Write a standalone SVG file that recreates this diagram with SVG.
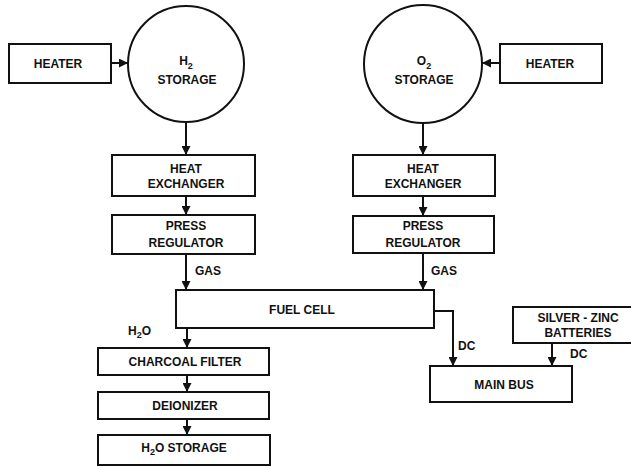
<svg xmlns="http://www.w3.org/2000/svg" width="631" height="466" viewBox="0 0 631 466">
<defs>
<marker id="ah" viewBox="0 0 10 10" refX="10" refY="5" markerWidth="4.5" markerHeight="4.5" orient="auto" markerUnits="strokeWidth">
<path d="M0,0 L10,5 L0,10 z" fill="#111"/>
</marker>
<style>
.box{fill:#fff;stroke:#111;stroke-width:2}
.t{font-family:"Liberation Sans",Arial,sans-serif;font-weight:bold;font-size:12px;fill:#111;text-anchor:middle}
.l{font-family:"Liberation Sans",Arial,sans-serif;font-weight:bold;font-size:12px;fill:#111}
.sub{font-size:9px}
.c{fill:none;stroke:#111;stroke-width:2;marker-end:url(#ah)}
</style>
</defs>
<rect width="631" height="466" fill="#fff"/>
<g id="connectors">
<line class="c" x1="111" y1="63" x2="128" y2="63"/>
<line class="c" x1="500" y1="63" x2="482" y2="63"/>
<line class="c" x1="186" y1="122" x2="186" y2="155"/>
<line class="c" x1="423" y1="123" x2="423" y2="155"/>
<line class="c" x1="186" y1="196" x2="186" y2="215"/>
<line class="c" x1="423" y1="196" x2="423" y2="216"/>
<line class="c" x1="186" y1="254" x2="186" y2="290"/>
<line class="c" x1="423" y1="253" x2="423" y2="290"/>
<line class="c" x1="187" y1="328" x2="187" y2="348"/>
<line class="c" x1="187" y1="375" x2="187" y2="392"/>
<line class="c" x1="187" y1="419" x2="187" y2="435"/>
<polyline class="c" points="434,311 453,311 453,366"/>
<line class="c" x1="552" y1="343" x2="552" y2="366"/>
<text class="l" x="195" y="275">GAS</text>
<text class="l" x="431" y="275">GAS</text>
<text class="l" x="128" y="335">H<tspan class="sub" dy="3">2</tspan><tspan dy="-3">O</tspan></text>
<text class="l" x="458" y="350">DC</text>
<text class="l" x="570" y="358">DC</text>
</g>
<g id="heater-left">
<rect class="box" x="9" y="44" width="102" height="39"/>
<text class="t" x="58" y="68">HEATER</text>
</g>
<g id="h2-storage">
<circle cx="186" cy="64" r="58" fill="#fff" stroke="#111" stroke-width="2"/>
<text class="t" x="186" y="65">H<tspan class="sub" dy="4">2</tspan></text>
<text class="t" x="187" y="84">STORAGE</text>
</g>
<g id="o2-storage">
<circle cx="423" cy="64" r="59" fill="#fff" stroke="#111" stroke-width="2"/>
<text class="t" x="424" y="65">O<tspan class="sub" dy="4">2</tspan></text>
<text class="t" x="424" y="84">STORAGE</text>
</g>
<g id="heater-right">
<rect class="box" x="500" y="44" width="102" height="39"/>
<text class="t" x="550" y="68">HEATER</text>
</g>
<g id="heat-exchanger-left">
<rect class="box" x="112" y="155" width="143" height="41"/>
<text class="t" x="186" y="173">HEAT</text>
<text class="t" x="186" y="188">EXCHANGER</text>
</g>
<g id="heat-exchanger-right">
<rect class="box" x="353" y="155" width="142" height="41"/>
<text class="t" x="423" y="173">HEAT</text>
<text class="t" x="423" y="188">EXCHANGER</text>
</g>
<g id="press-regulator-left">
<rect class="box" x="112" y="215" width="143" height="39"/>
<text class="t" x="186" y="230">PRESS</text>
<text class="t" x="186" y="247">REGULATOR</text>
</g>
<g id="press-regulator-right">
<rect class="box" x="353" y="216" width="141" height="37"/>
<text class="t" x="423" y="230">PRESS</text>
<text class="t" x="423" y="247">REGULATOR</text>
</g>
<g id="fuel-cell">
<rect class="box" x="176" y="290" width="258" height="38"/>
<text class="t" x="302" y="314">FUEL CELL</text>
</g>
<g id="charcoal-filter">
<rect class="box" x="98" y="348" width="171" height="27"/>
<text class="t" x="185" y="366">CHARCOAL FILTER</text>
</g>
<g id="deionizer">
<rect class="box" x="98" y="392" width="171" height="27"/>
<text class="t" x="185" y="410">DEIONIZER</text>
</g>
<g id="h2o-storage">
<rect class="box" x="98" y="435" width="172" height="30"/>
<text class="t" x="184" y="452">H<tspan class="sub" dy="3">2</tspan><tspan dy="-3">O STORAGE</tspan></text>
</g>
<g id="silver-zinc-batteries">
<rect class="box" x="513" y="307" width="125" height="36"/>
<text class="t" x="578" y="322">SILVER - ZINC</text>
<text class="t" x="578" y="337">BATTERIES</text>
</g>
<g id="main-bus">
<rect class="box" x="430" y="366" width="142" height="36"/>
<text class="t" x="504" y="389">MAIN BUS</text>
</g>
</svg>
